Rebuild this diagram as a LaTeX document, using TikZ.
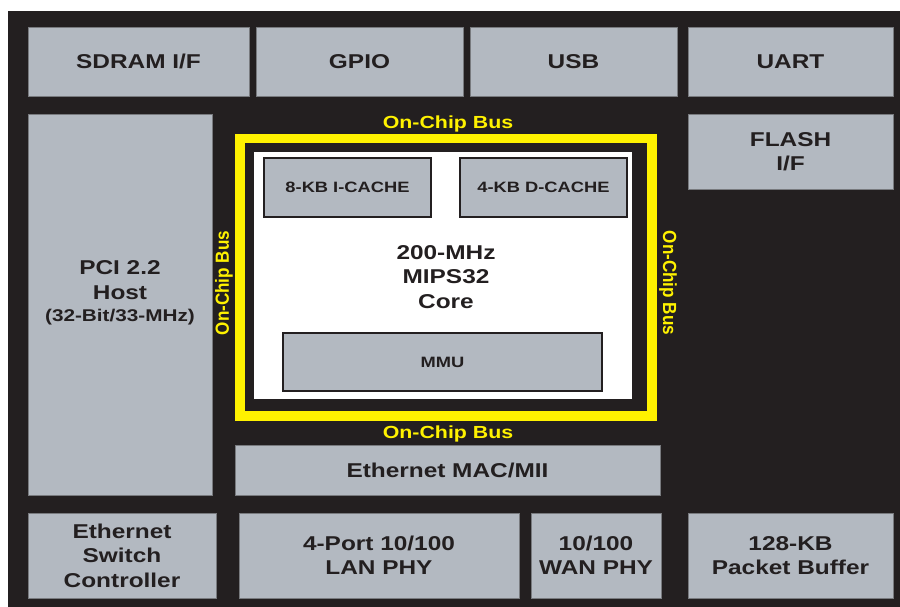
\documentclass[tikz,border=0pt]{standalone}
\usepackage{fontspec}
\setmainfont{Liberation Sans}[FakeStretch=1.22]
\newfontfamily\narrowsans{Liberation Sans}[FakeStretch=0.9]
\usepackage{tikz}
\usetikzlibrary{positioning}
\usepackage{xcolor}
\definecolor{ChipDark}{RGB}{35,31,32}
\definecolor{BlockGray}{RGB}{179,185,193}
\definecolor{EdgeGray}{RGB}{120,122,126}
\definecolor{BusYellow}{RGB}{255,242,0}
\tikzset{
  block/.style={draw=EdgeGray, fill=BlockGray, line width=0.8pt,
    inner sep=0pt, align=center, text=ChipDark,
    font=\fontsize{20}{24.5}\selectfont\bfseries},
  unit/.style={draw=ChipDark, fill=BlockGray, line width=1.3pt,
    inner sep=0pt, align=center, text=ChipDark,
    font=\fontsize{15}{18}\selectfont\bfseries},
  buslabel/.style={text=BusYellow, inner sep=0pt,
    font=\fontsize{17.5}{20}\selectfont\bfseries},
  sidebus/.style={text=BusYellow, inner sep=0pt,
    font=\narrowsans\fontsize{19}{22}\selectfont\bfseries},
  bus/.style={draw=BusYellow, line width=9.5pt}
}

\begin{document}
\begin{tikzpicture}[x=1pt,y=-1pt]
      \useasboundingbox (0,0) rectangle (900,607);
      \fill[white] (0,0) rectangle (900,607);
      \fill[ChipDark] (8,11) rectangle (900,607);
      % top row
      \node[block,minimum width=221,minimum height=69] (sdram) at (138.5,61.5) {SDRAM I/F};
      \node[block,minimum width=207,minimum height=69] (gpio) at (359.5,61.5) {GPIO};
      \node[block,minimum width=207,minimum height=69] (usb) at (573.5,61.5) {USB};
      \node[block,minimum width=205,minimum height=69] (uart) at (790.5,61.5) {UART};
      % side blocks
      \node[block,minimum width=205,minimum height=75] (flash) at (790.5,151.5) {FLASH\\I/F};
      \node[block,minimum width=184,minimum height=381] (pci) at (120,304.5) {};
      \node[align=center,text=ChipDark,inner sep=0pt,
        font=\fontsize{20}{24.5}\selectfont\bfseries] (pcitext) at (120,293) {PCI 2.2\\Host\\[-2pt]
        {\fontsize{17}{20}\selectfont (32-Bit/33-MHz)}};
      % on-chip bus and core
      \draw[bus] (240,138.5) rectangle (652,416);
      \node[fill=white,minimum width=378,minimum height=247,inner sep=0pt] (core) at (443,275.5) {};
      \node[align=center,text=ChipDark,inner sep=0pt,
        font=\fontsize{20}{24.5}\selectfont\bfseries] (mips) at (446,277) {200-MHz\\MIPS32\\Core};
      \node[unit,minimum width=167,minimum height=59] (icache) at (347.5,187.5) {8-KB I-CACHE};
      \node[unit,minimum width=167,minimum height=59] (dcache) at (543.5,187.5) {4-KB D-CACHE};
      \node[unit,minimum width=319,minimum height=58] (mmu) at (442.5,362) {MMU};
      \node[buslabel] (bustop) at (448,124) {On-Chip Bus};
      \node[buslabel] (busbottom) at (448,434) {On-Chip Bus};
      \node[sidebus,rotate=90] (busleft) at (224,283) {On-Chip Bus};
      \node[sidebus,rotate=-90] (busright) at (668,283) {On-Chip Bus};
      % ethernet
      \node[block,minimum width=425,minimum height=50] (mac) at (447.5,470) {Ethernet MAC/MII};
      % bottom row
      \node[block,minimum width=188,minimum height=85] (switch) at (122,555.5) {Ethernet\\Switch\\Controller};
      \node[block,minimum width=280,minimum height=85] (lanphy) at (379,555.5) {4-Port 10/100\\LAN PHY};
      \node[block,minimum width=130,minimum height=85] (wanphy) at (596,555.5) {10/100\\WAN PHY};
      \node[block,minimum width=205,minimum height=85] (pktbuf) at (790.5,555.5) {128-KB\\Packet Buffer};
    \end{tikzpicture}
\end{document}
